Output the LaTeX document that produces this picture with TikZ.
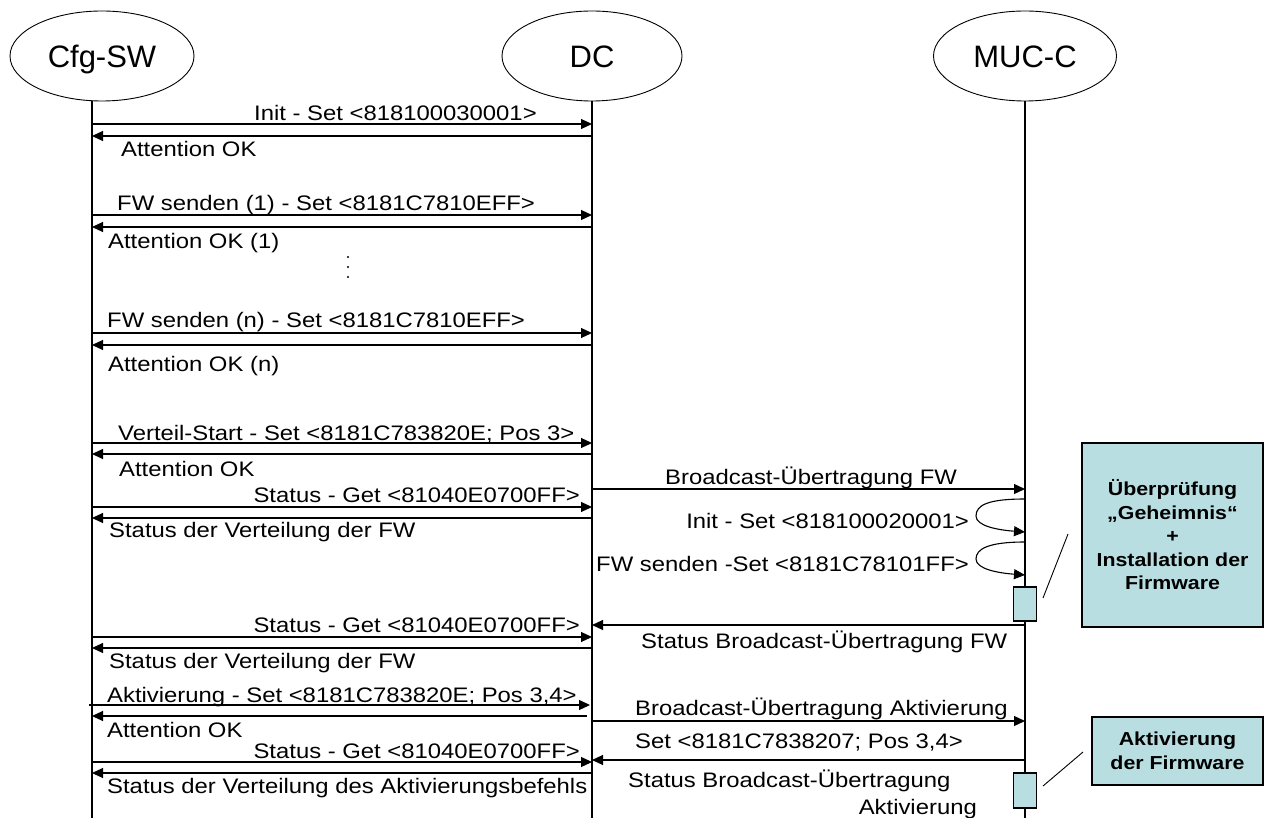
\documentclass[tikz,border=0pt]{standalone}
\usepackage{fontspec}
\setmainfont{Liberation Sans}[FakeStretch=1.136]
\newfontfamily\hdrfont{Liberation Sans}
\usetikzlibrary{arrows.meta,shapes.geometric}
\definecolor{notefill}{RGB}{184,222,226}
\tikzset{
  actor/.style={draw, line width=0.9pt, ellipse, minimum width=184pt, minimum height=90pt,
    inner sep=0pt, text height=24pt, text depth=0pt, font=\hdrfont\fontsize{31}{31}\selectfont},
  lifeline/.style={line width=1.8pt},
  msg/.style={line width=1.1pt, -{Triangle[length=11pt,width=10pt]}},
  lbl/.style={inner sep=0pt, font=\fontsize{21}{21}\selectfont},
  lw/.style={lbl, anchor=base west},
  le/.style={lbl, anchor=base east},
  act/.style={draw, line width=1.1pt, fill=notefill},
  note/.style={draw, line width=1.1pt, fill=notefill, align=center, inner sep=0pt,
    font=\fontsize{18.8}{23.5}\selectfont\bfseries},
  link/.style={line width=0.9pt}
}
\begin{document}
\begin{tikzpicture}[x=1pt, y=-1pt]
\useasboundingbox (0,0) rectangle (1265,818);

% participants
\node[actor] (cfg) at (102,56) {Cfg-SW};
\node[actor, minimum width=180pt] (dc) at (592,56) {DC};
\node[actor, minimum width=183pt] (muc) at (1025,56) {MUC-C};

% lifeline anchors
\coordinate (Lc) at (92,101);
\coordinate (Ld) at (592,101);
\coordinate (Lm) at (1025,101);
\coordinate (Lcb) at (92,818);
\coordinate (Ldb) at (592,818);
\coordinate (Lmb) at (1025,818);
\draw[lifeline] (Lc) -- (Lcb);
\draw[lifeline] (Ld) -- (Ldb);
\draw[lifeline] (Lm) -- (Lmb);

% firmware download Cfg-SW <-> DC
\draw[msg] (Lc |- 0,124) -- (Ld |- 0,124);
\node[lw] (t1) at (254,121) {Init - Set <818100030001>};
\draw[msg] (Ld |- 0,136) -- (Lc |- 0,136);
\node[lw] (t2) at (121,157) {Attention OK};

\draw[msg] (Lc |- 0,215) -- (Ld |- 0,215);
\node[lw] (t3) at (117,211) {FW senden (1) - Set <8181C7810EFF>};
\draw[msg] (Ld |- 0,227) -- (Lc |- 0,227);
\node[lw] (t4) at (108,248) {Attention OK (1)};

\foreach \yy in {257,267,277} \fill (348,\yy) circle (1.2pt);

\draw[msg] (Lc |- 0,333) -- (Ld |- 0,333);
\node[lw] (t5) at (107,327) {FW senden (n) - Set <8181C7810EFF>};
\draw[msg] (Ld |- 0,345) -- (Lc |- 0,345);
\node[lw] (t6) at (108,371) {Attention OK (n)};

% distribution start
\draw[msg] (Lc |- 0,443) -- (Ld |- 0,443);
\node[lw] (t7) at (118,440) {Verteil-Start - Set <8181C783820E; Pos 3>};
\draw[msg] (Ld |- 0,454) -- (Lc |- 0,454);
\node[lw] (t8) at (119,476) {Attention OK};

\draw[msg] (Ld |- 0,489) -- (Lm |- 0,489);
\node[lw] (t9) at (665,484) {Broadcast-Übertragung FW};

\draw[msg] (Lc |- 0,507) -- (Ld |- 0,507);
\node[le] (t10) at (580,502) {Status - Get <81040E0700FF>};
\draw[msg] (Ld |- 0,518) -- (Lc |- 0,518);
\node[lw] (t11) at (109,537) {Status der Verteilung der FW};

% self messages on MUC-C
\coordinate (s1a) at (1025,499);
\coordinate (s1b) at (1025,532);
\draw[msg] (s1a) .. controls (988,499) and (976,505) .. (976,516)
  .. controls (976,526) and (998,530) .. (s1b);
\node[le] (t12) at (969,528) {Init - Set <818100020001>};
\coordinate (s2a) at (1025,542);
\coordinate (s2b) at (1025,575);
\draw[msg] (s2a) .. controls (988,542) and (976,549) .. (976,559)
  .. controls (976,569) and (998,573) .. (s2b);
\node[le] (t13) at (969,571) {FW senden -Set <8181C78101FF>};

% check and installation
\node[act, minimum width=23pt, minimum height=34pt, inner sep=0pt] (a1) at (1025,604) {};
\node[note, minimum width=181pt, minimum height=184pt] (n1) at (1172.5,535)
  {Überprüfung\\„Geheimnis“\\+\\Installation der\\Firmware};
\coordinate (k1a) at (1043,598);
\coordinate (k1b) at (1068,534);
\draw[link] (k1a) -- (k1b);

\draw[msg] (Lm |- 0,625) -- (Ld |- 0,625);
\node[lw] (t14) at (641,648) {Status Broadcast-Übertragung FW};

\draw[msg] (Lc |- 0,637) -- (Ld |- 0,637);
\node[le] (t15) at (580,632) {Status - Get <81040E0700FF>};
\draw[msg] (Ld |- 0,648) -- (Lc |- 0,648);
\node[lw] (t16) at (109,668) {Status der Verteilung der FW};

% activation
\coordinate (ak1) at (89,705);
\coordinate (ak2) at (590,705);
\draw[msg] (ak1) -- (ak2);
\node[lw] (t17) at (107,702) {Aktivierung - Set <8181C783820E; Pos 3,4>};
\coordinate (ak3) at (587,716);
\draw[msg] (ak3) -- (Lc |- 0,716);
\node[lw] (t18) at (107,737) {Attention OK};

\draw[msg] (Ld |- 0,721) -- (Lm |- 0,721);
\node[lw] (t19) at (635,715) {Broadcast-Übertragung Aktivierung};
\node[lw] (t20) at (635,748) {Set <8181C7838207; Pos 3,4>};

\draw[msg] (Lc |- 0,762) -- (Ld |- 0,762);
\node[le] (t21) at (580,758) {Status - Get <81040E0700FF>};
\draw[msg] (Lm |- 0,760) -- (Ld |- 0,760);
\node[lw] (t22) at (628,787) {Status Broadcast-Übertragung};
\node[le] (t23) at (977,814) {Aktivierung};

\draw[msg] (Ld |- 0,773) -- (Lc |- 0,773);
\node[lw] (t24) at (107,793) {Status der Verteilung des Aktivierungsbefehls};

\node[act, minimum width=23pt, minimum height=35pt, inner sep=0pt] (a2) at (1025,790.5) {};
\node[note, minimum width=171pt, minimum height=68pt] (n2) at (1177.5,751)
  {Aktivierung\\der Firmware};
\coordinate (k2a) at (1043,786);
\coordinate (k2b) at (1083,752);
\draw[link] (k2a) -- (k2b);
\end{tikzpicture}
\end{document}
